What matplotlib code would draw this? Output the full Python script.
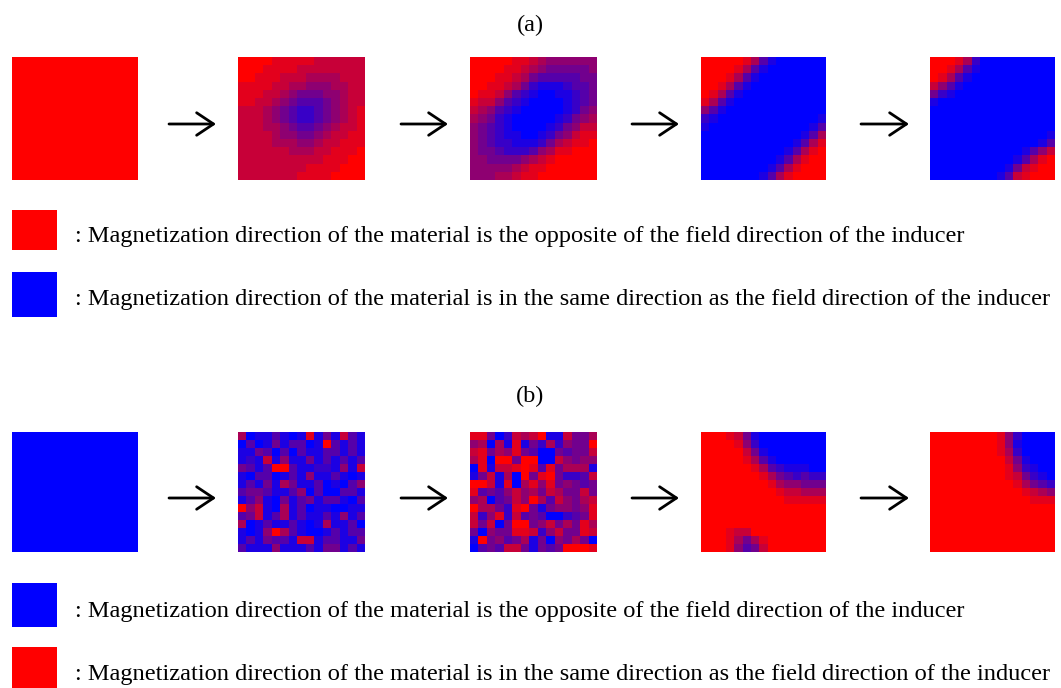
import numpy as np
import matplotlib
matplotlib.use("Agg")
import matplotlib.pyplot as plt
from matplotlib.colors import LinearSegmentedColormap

# each digit = how red a cell is (0 = blue, 9 = red), 15x15 cells per panel
a2 = ["999988888777777",
      "999888877777777",
      "998887776666777",
      "888877665556677",
      "888776544455677",
      "887765433345677",
      "777654322345678",
      "777654322345678",
      "777665433456778",
      "777765544567788",
      "777766655677888",
      "777777666778889",
      "777777777788899",
      "777777778888999",
      "777777788889999"]

a3 = ["999998876555555",
      "999988765444445",
      "999887643333344",
      "998876421112334",
      "988753210011234",
      "877532100001234",
      "765321000001245",
      "654210000012456",
      "543210000124577",
      "543211001245788",
      "543221112467889",
      "544322235688999",
      "554444567899999",
      "555556788999999",
      "555667889999999"]

a4 = ["999998631000000",
      "999986310000000",
      "999863100000000",
      "998631000000000",
      "986310000000000",
      "863100000000000",
      "531000000000000",
      "210000000000001",
      "100000000000013",
      "000000000000136",
      "000000000001368",
      "000000000013689",
      "000000000136899",
      "000000001368999",
      "000000013689999"]

a5 = ["999862000000000",
      "998631000000000",
      "986310000000000",
      "753100000000000",
      "421000000000000",
      "100000000000000",
      "000000000000000",
      "000000000000000",
      "000000000000000",
      "000000000000001",
      "000000000000013",
      "000000000001357",
      "000000000013689",
      "000000000147899",
      "000000001378999"]

b2 = ["601131018141731",
      "030141330193131",
      "114303031133131",
      "121715114131313",
      "431399311221517",
      "103301315113101",
      "131416411301035",
      "344311350300331",
      "135104134133103",
      "957106130110011",
      "347136131131513",
      "601311310161130",
      "101596310013133",
      "131433177133114",
      "311151113144131"]

b3 = ["884027679117446",
      "560618142625449",
      "784658430043447",
      "680994990075455",
      "081778983846661",
      "147160948942237",
      "997180685845434",
      "834357564764474",
      "560347596375467",
      "966428941455458",
      "725827343002348",
      "747049945746486",
      "405448872574487",
      "194534614054640",
      "034377414349998"]

b4 = ["999874100000000",
      "999985200000000",
      "999997410000000",
      "999998631000000",
      "999999863211100",
      "999999986432322",
      "999999998655444",
      "999999999877666",
      "999999999988888",
      "999999999999999",
      "999999999999999",
      "999999999999999",
      "999877999999999",
      "999864689999999",
      "999853479999999"]

b5 = ["999999998520000",
      "999999998510000",
      "999999998620000",
      "999999999741000",
      "999999999852100",
      "999999999874210",
      "999999999986432",
      "999999999998765",
      "999999999999888",
      "999999999999999",
      "999999999999999",
      "999999999999999",
      "999999999999999",
      "999999999999999",
      "999999999999999"]

a1 = ["9" * 15] * 15
b1 = ["0" * 15] * 15

row_a = [a1, a2, a3, a4, a5]
row_b = [b1, b2, b3, b4, b5]

text_opp = ": Magnetization direction of the material is the opposite of the field direction of the inducer"
text_same = ": Magnetization direction of the material is in the same direction as the field direction of the inducer"

W, H = 1061, 688
cmap = LinearSegmentedColormap.from_list("br", ["#0000ff", "#ff0000"])
RED = "#ff0000"
BLUE = "#0000ff"
FS = 17.6

plt.rcParams['font.family'] = ['Liberation Serif', 'DejaVu Serif']

fig = plt.figure(figsize=(W / 100, H / 100), dpi=100)


def px_axes(x0, y0, x1, y1):
    return fig.add_axes([x0 / W, 1 - y1 / H, (x1 - x0) / W, (y1 - y0) / H])


def to_grid(rows):
    return np.array([[int(c) for c in r] for r in rows], dtype=float)


panel_x = [(12, 138), (238, 365), (470, 597), (701, 826), (930, 1055)]
arrow_x = [(169, 216), (401, 448), (632, 679), (861, 909)]


def draw_row(grids, y0, y1, y_arrow):
    for (x0, x1), g in zip(panel_x, grids):
        ax = px_axes(x0, y0, x1, y1)
        ax.imshow(to_grid(g), cmap=cmap, vmin=0, vmax=9, aspect='auto',
                  interpolation='nearest')
        ax.set_axis_off()
    yc = 1 - y_arrow / H
    for xa, xb in arrow_x:
        fig.add_artist(matplotlib.patches.FancyArrowPatch(
            (xa / W, yc), (xb / W, yc), transform=fig.transFigure,
            arrowstyle='->,head_length=0.45,head_width=0.3',
            mutation_scale=27, lw=2.0, color='black', shrinkA=0, shrinkB=0))


def legend_row(color, y0, y1, baseline, label):
    fig.add_artist(matplotlib.patches.Rectangle(
        (12 / W, 1 - y1 / H), 45 / W, (y1 - y0) / H,
        transform=fig.transFigure, color=color, lw=0))
    fig.text(75 / W, 1 - baseline / H, label, fontsize=FS,
             va='baseline', ha='left')


fig.text(0.5, 1 - 25 / H, "(a)", fontsize=FS, ha='center', va='center')
draw_row(row_a, 57, 180, 124)
legend_row(RED, 210, 250, 242, text_opp)
legend_row(BLUE, 272, 317, 305, text_same)

fig.text(0.5, 1 - 396 / H, "(b)", fontsize=FS, ha='center', va='center')
draw_row(row_b, 432, 552, 498)
legend_row(BLUE, 583, 627, 617, text_opp)
legend_row(RED, 647, 692, 680, text_same)

fig.savefig("out.png", dpi=100)
